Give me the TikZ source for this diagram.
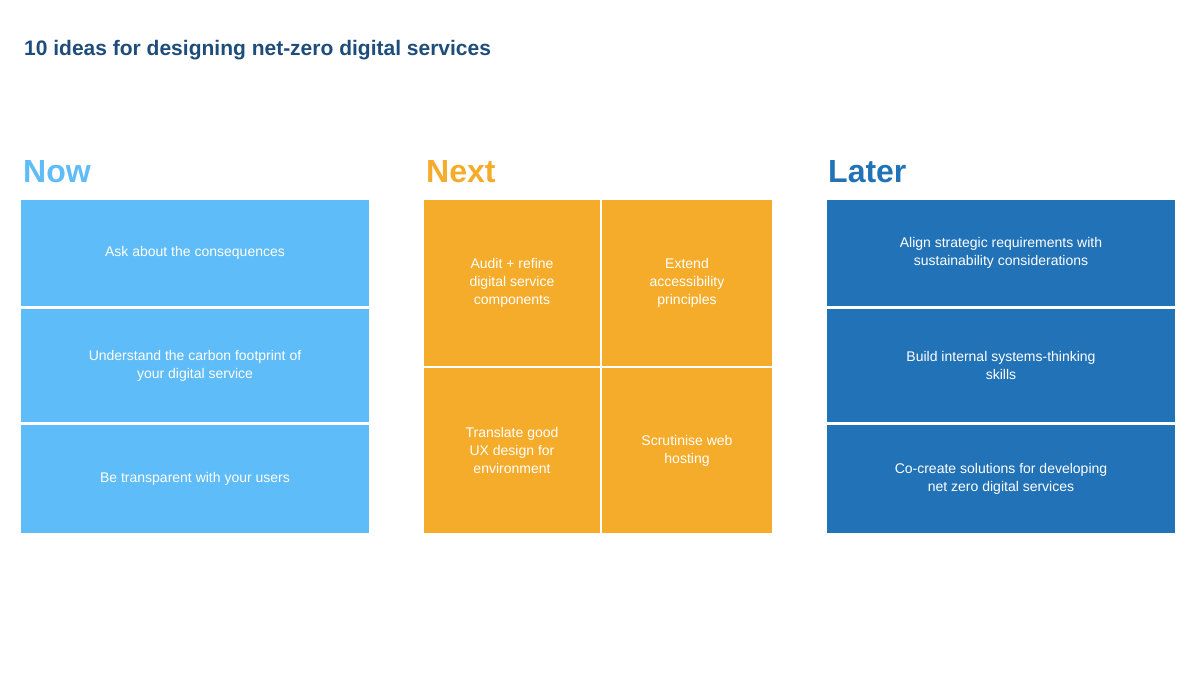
\documentclass[tikz,border=0pt]{standalone}
\usepackage{fontspec}
\setmainfont{Liberation Sans}
\usepackage{xcolor}
\definecolor{nowblue}{HTML}{5EBCF8}
\definecolor{nextorange}{HTML}{F5AC2B}
\definecolor{laterblue}{HTML}{2272B7}
\definecolor{titleblue}{HTML}{1E4D7B}
\tikzset{
  idea/.style={fill=#1,text=white,align=center,inner sep=0pt,font=\fontsize{14}{18}\selectfont},
  head/.style={anchor=base west,inner sep=0pt,font=\fontsize{32}{36}\selectfont\bfseries,text=#1}
}
\begin{document}
\begin{tikzpicture}[x=1pt,y=-1pt]
\useasboundingbox [fill=white] (0,0) rectangle (1200,680);

\node (title)	at (24,55)	[anchor=base west,inner sep=0pt,text=titleblue,font=\fontsize{21}{24}\selectfont\bfseries] {10 ideas for designing net-zero digital services};

\node (now_label)	at (23,182)	[head=nowblue] {Now};
\node (now1)	at (195,253)	[idea=nowblue,minimum width=348,minimum height=106] {Ask about the consequences};
\node (now2)	at (195,365.5)	[idea=nowblue,minimum width=348,minimum height=113] {Understand the carbon footprint of\\your digital service};
\node (now3)	at (195,479)	[idea=nowblue,minimum width=348,minimum height=108] {Be transparent with your users};

\node (next_label)	at (426,182)	[head=nextorange] {Next};
\node (next11)	at (512,283)	[idea=nextorange,minimum width=176,minimum height=166] {Audit + refine\\digital service\\components};
\node (next12)	at (687,283)	[idea=nextorange,minimum width=170,minimum height=166] {Extend\\accessibility\\principles};
\node (next21)	at (512,450.5)	[idea=nextorange,minimum width=176,minimum height=165] {Translate good\\UX design for\\environment};
\node (next22)	at (687,450.5)	[idea=nextorange,minimum width=170,minimum height=165] {Scrutinise web\\hosting};

\node (later_label)	at (828,182)	[head=laterblue] {Later};
\node (later1)	at (1001,253)	[idea=laterblue,minimum width=348,minimum height=106] {Align strategic requirements with\\sustainability considerations};
\node (later2)	at (1001,365.5)	[idea=laterblue,minimum width=348,minimum height=113] {Build internal systems-thinking\\skills};
\node (later3)	at (1001,479)	[idea=laterblue,minimum width=348,minimum height=108] {Co-create solutions for developing\\net zero digital services};

\end{tikzpicture}
\end{document}
